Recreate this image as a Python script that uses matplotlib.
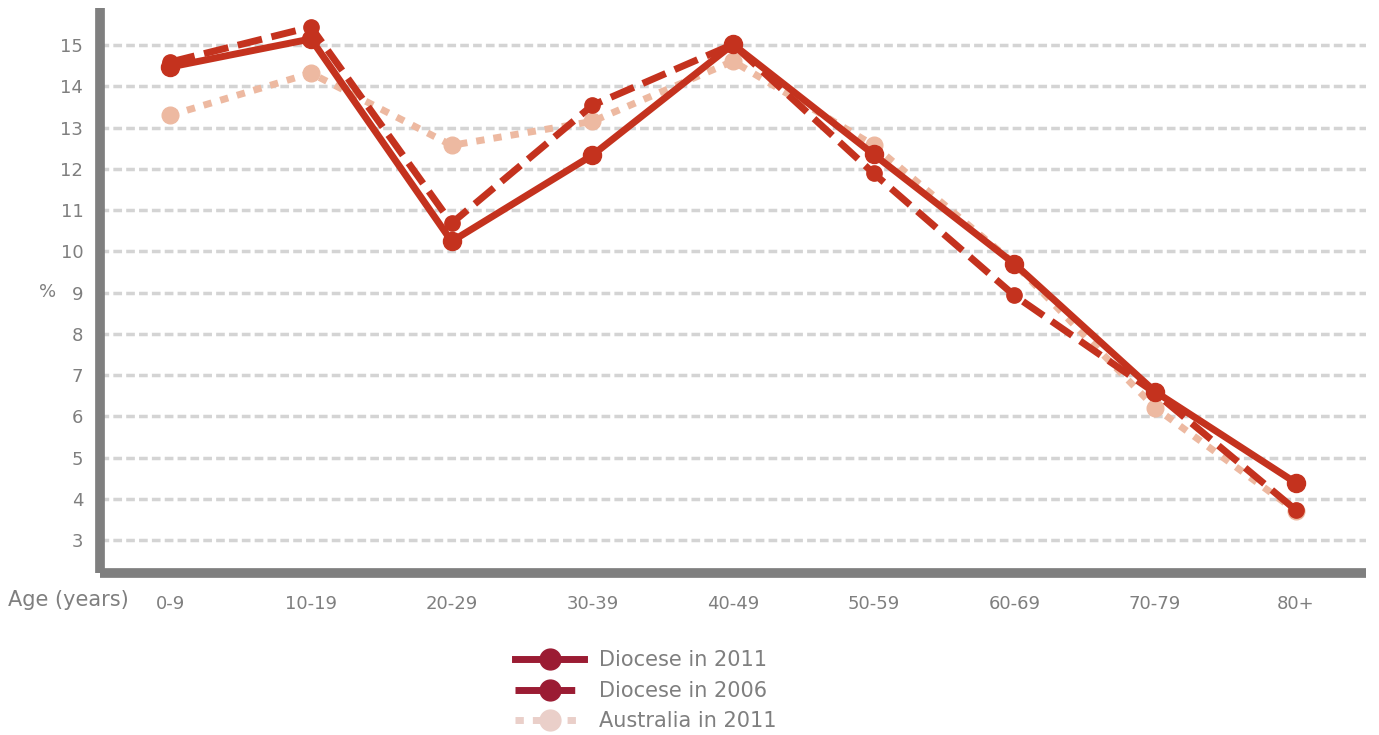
import matplotlib.pyplot as plt
from matplotlib.lines import Line2D

ages = ["0-9", "10-19", "20-29", "30-39", "40-49", "50-59", "60-69", "70-79", "80+"]
diocese_2011 = [14.47, 15.15, 10.24, 12.33, 15.02, 12.35, 9.70, 6.60, 4.39]
diocese_2006 = [14.59, 15.44, 10.68, 13.54, 15.02, 11.89, 8.93, 6.57, 3.73]
australia_2011 = [13.30, 14.32, 12.57, 13.15, 14.61, 12.57, 9.70, 6.21, 3.71]
y_ticks = list(range(3, 16))

red = "#C4321E"
pale = "#EDB9A1"
grey = "#7F7F7F"

plt.rcParams["font.family"] = ["DejaVu Sans"]

fig = plt.figure(figsize=(13.79, 7.35), dpi=100)
ax = fig.add_axes([100 / 1379, 162 / 735, 1266 / 1379, 565 / 735])

x = list(range(len(ages)))
ax.plot(x, australia_2011, color=pale, lw=5, ls=(0, (1.2, 1.3)),
        marker="o", ms=12, zorder=3)
ax.plot(x, diocese_2006, color=red, lw=5, ls=(0, (3.6, 1.4)),
        marker="o", ms=11, zorder=4)
ax.plot(x, diocese_2011, color=red, lw=5, marker="o", ms=13, zorder=5)

ax.set_xlim(-0.5, 8.5)
ax.set_ylim(2.2, 15.9)
ax.set_xticks(x)
ax.set_xticklabels(ages)
ax.set_yticks(y_ticks)
ax.tick_params(length=0, colors=grey, labelsize=13)
ax.tick_params(axis="x", pad=16)
ax.tick_params(axis="y", pad=12)
ax.yaxis.grid(True, color="#D4D4D4", lw=2.5, ls=(0, (2.5, 1.2)))
ax.set_axisbelow(True)

for side in ["top", "right"]:
    ax.spines[side].set_visible(False)
for side in ["left", "bottom"]:
    ax.spines[side].set_color(grey)
    ax.spines[side].set_linewidth(7)
    ax.spines[side].set_capstyle("butt")

fig.text(48 / 1379, 1 - 292 / 735, "%", color=grey, fontsize=13,
         ha="center", va="center")
fig.text(8 / 1379, 1 - 600 / 735, "Age (years)", color=grey, fontsize=15,
         ha="left", va="center")

handles = [
    Line2D([], [], color="#9B1C33", lw=5, marker="o", ms=15),
    Line2D([], [], color="#9B1C33", lw=5, ls=(0, (3.6, 1.4)), marker="o", ms=15),
    Line2D([], [], color="#EACFC9", lw=5, ls=(0, (1.2, 1.3)), marker="o", ms=15),
]
labels = ["Diocese in 2011", "Diocese in 2006", "Australia in 2011"]
fig.legend(handles, labels, loc="upper left", bbox_to_anchor=(505 / 1379, 1 - 640 / 735),
           frameon=False, fontsize=15, labelcolor=grey, handlelength=3.3,
           handletextpad=0.7, labelspacing=0.5, borderpad=0)

fig.savefig("out.png", dpi=100)
